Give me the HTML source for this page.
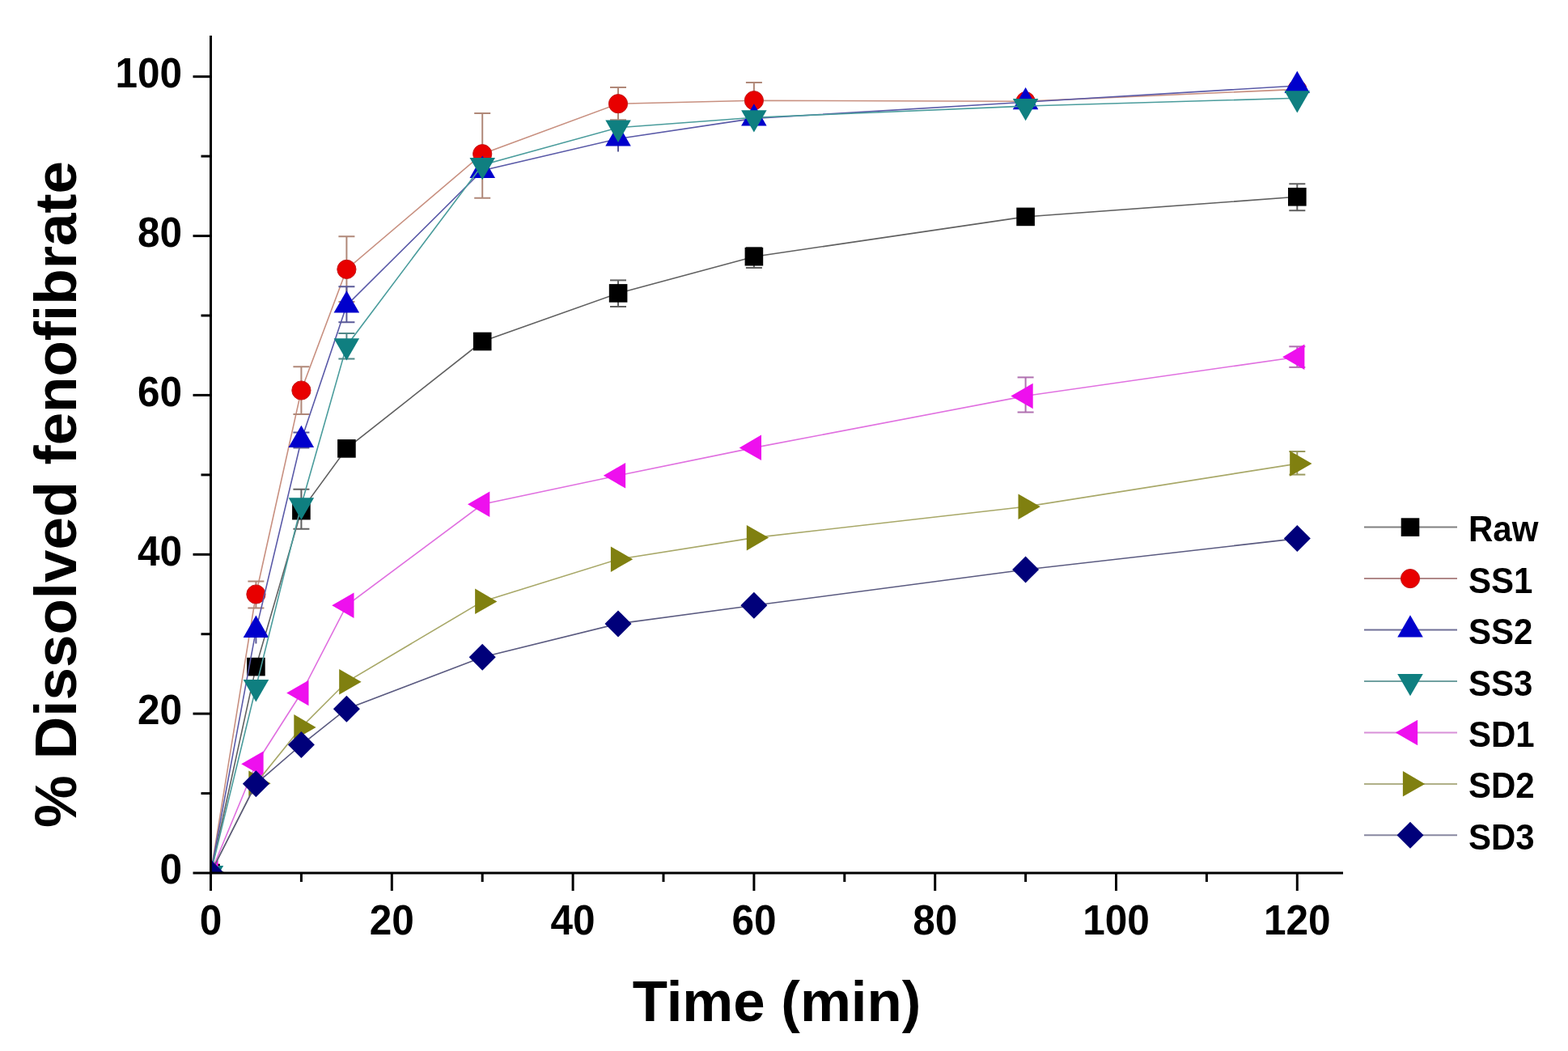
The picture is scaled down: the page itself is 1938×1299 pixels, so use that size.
<!DOCTYPE html>
<html><head><meta charset="utf-8"><title>Dissolution profile</title>
<style>html,body{margin:0;padding:0;background:#fff;overflow:hidden;} svg{display:block;}</style>
</head><body>
<svg width="1938" height="1299" viewBox="0 0 1938 1299">
<rect width="100%" height="100%" fill="#ffffff"/>
<defs><clipPath id="pa"><rect x="260.5" y="30" width="1399.5" height="1049.0"/></clipPath></defs>
<g clip-path="url(#pa)">
<path d="M260.5,1079.0 L316.4,824.1 L372.4,631.1 L428.4,554.4 L596.2,422.0 L764.0,362.4 L931.9,317.2 L1267.6,267.9 L1603.3,243.3" fill="none" stroke="#606060" stroke-width="1.6"/>
<g stroke="#606060" stroke-width="2"><line x1="372.4" y1="604.8" x2="372.4" y2="653.8"/><line x1="362.4" y1="604.8" x2="382.4" y2="604.8"/><line x1="362.4" y1="653.8" x2="382.4" y2="653.8"/></g>
<g stroke="#606060" stroke-width="2"><line x1="764.0" y1="346.4" x2="764.0" y2="379.0"/><line x1="754.0" y1="346.4" x2="774.0" y2="346.4"/><line x1="754.0" y1="379.0" x2="774.0" y2="379.0"/></g>
<g stroke="#606060" stroke-width="2"><line x1="931.9" y1="306.0" x2="931.9" y2="331.0"/><line x1="921.9" y1="306.0" x2="941.9" y2="306.0"/><line x1="921.9" y1="331.0" x2="941.9" y2="331.0"/></g>
<g stroke="#606060" stroke-width="2"><line x1="1603.3" y1="227.3" x2="1603.3" y2="260.2"/><line x1="1593.3" y1="227.3" x2="1613.3" y2="227.3"/><line x1="1593.3" y1="260.2" x2="1613.3" y2="260.2"/></g>
<rect x="249.2" y="1067.7" width="22.6" height="22.6" fill="#000000"/>
<rect x="305.1" y="812.8" width="22.6" height="22.6" fill="#000000"/>
<rect x="361.1" y="619.8" width="22.6" height="22.6" fill="#000000"/>
<rect x="417.1" y="543.1" width="22.6" height="22.6" fill="#000000"/>
<rect x="584.9" y="410.7" width="22.6" height="22.6" fill="#000000"/>
<rect x="752.8" y="351.1" width="22.6" height="22.6" fill="#000000"/>
<rect x="920.6" y="305.9" width="22.6" height="22.6" fill="#000000"/>
<rect x="1256.3" y="256.6" width="22.6" height="22.6" fill="#000000"/>
<rect x="1592.0" y="232.0" width="22.6" height="22.6" fill="#000000"/>
<path d="M260.5,1079.0 L316.4,734.5 L372.4,482.5 L428.4,332.9 L596.2,190.2 L764.0,128.2 L931.9,124.2 L1267.6,125.2 L1603.3,110.4" fill="none" stroke="#c89080" stroke-width="1.6"/>
<g stroke="#b08878" stroke-width="2"><line x1="316.4" y1="718.4" x2="316.4" y2="751.6"/><line x1="306.4" y1="718.4" x2="326.4" y2="718.4"/><line x1="306.4" y1="751.6" x2="326.4" y2="751.6"/></g>
<g stroke="#b08878" stroke-width="2"><line x1="372.4" y1="453.2" x2="372.4" y2="512.0"/><line x1="362.4" y1="453.2" x2="382.4" y2="453.2"/><line x1="362.4" y1="512.0" x2="382.4" y2="512.0"/></g>
<g stroke="#b08878" stroke-width="2"><line x1="428.4" y1="292.3" x2="428.4" y2="373.0"/><line x1="418.4" y1="292.3" x2="438.4" y2="292.3"/><line x1="418.4" y1="373.0" x2="438.4" y2="373.0"/></g>
<g stroke="#b08878" stroke-width="2"><line x1="596.2" y1="140.0" x2="596.2" y2="244.8"/><line x1="586.2" y1="140.0" x2="606.2" y2="140.0"/><line x1="586.2" y1="244.8" x2="606.2" y2="244.8"/></g>
<g stroke="#b08878" stroke-width="2"><line x1="764.0" y1="107.9" x2="764.0" y2="148.3"/><line x1="754.0" y1="107.9" x2="774.0" y2="107.9"/><line x1="754.0" y1="148.3" x2="774.0" y2="148.3"/></g>
<g stroke="#b08878" stroke-width="2"><line x1="931.9" y1="101.9" x2="931.9" y2="146.5"/><line x1="921.9" y1="101.9" x2="941.9" y2="101.9"/><line x1="921.9" y1="146.5" x2="941.9" y2="146.5"/></g>
<circle cx="260.5" cy="1079.0" r="11.6" fill="#e80000" stroke="#c41a1a" stroke-width="1"/>
<circle cx="316.4" cy="734.5" r="11.6" fill="#e80000" stroke="#c41a1a" stroke-width="1"/>
<circle cx="372.4" cy="482.5" r="11.6" fill="#e80000" stroke="#c41a1a" stroke-width="1"/>
<circle cx="428.4" cy="332.9" r="11.6" fill="#e80000" stroke="#c41a1a" stroke-width="1"/>
<circle cx="596.2" cy="190.2" r="11.6" fill="#e80000" stroke="#c41a1a" stroke-width="1"/>
<circle cx="764.0" cy="128.2" r="11.6" fill="#e80000" stroke="#c41a1a" stroke-width="1"/>
<circle cx="931.9" cy="124.2" r="11.6" fill="#e80000" stroke="#c41a1a" stroke-width="1"/>
<circle cx="1267.6" cy="125.2" r="11.6" fill="#e80000" stroke="#c41a1a" stroke-width="1"/>
<circle cx="1603.3" cy="110.4" r="11.6" fill="#e80000" stroke="#c41a1a" stroke-width="1"/>
<path d="M260.5,1079.0 L316.4,778.8 L372.4,544.0 L428.4,377.5 L596.2,210.8 L764.0,171.5 L931.9,146.4 L1267.6,126.2 L1603.3,106.0" fill="none" stroke="#5a5aa8" stroke-width="1.6"/>
<g stroke="#5a5a98" stroke-width="2"><line x1="316.4" y1="778.8" x2="316.4" y2="795.6"/></g>
<g stroke="#5a5a98" stroke-width="2"><line x1="372.4" y1="534.6" x2="372.4" y2="553.4"/><line x1="362.4" y1="534.6" x2="382.4" y2="534.6"/><line x1="362.4" y1="553.4" x2="382.4" y2="553.4"/></g>
<g stroke="#5a5a98" stroke-width="2"><line x1="428.4" y1="354.3" x2="428.4" y2="398.3"/><line x1="418.4" y1="354.3" x2="438.4" y2="354.3"/><line x1="418.4" y1="398.3" x2="438.4" y2="398.3"/></g>
<g stroke="#5a5a98" stroke-width="2"><line x1="764.0" y1="171.5" x2="764.0" y2="187.5"/></g>
<polygon points="260.5,1060.8 276.2,1088.1 244.8,1088.1" fill="#0000cc"/>
<polygon points="316.4,760.6 332.2,787.9 300.7,787.9" fill="#0000cc"/>
<polygon points="372.4,525.8 388.1,553.1 356.6,553.1" fill="#0000cc"/>
<polygon points="428.4,359.3 444.1,386.6 412.6,386.6" fill="#0000cc"/>
<polygon points="596.2,192.6 612.0,219.9 580.5,219.9" fill="#0000cc"/>
<polygon points="764.0,153.3 779.8,180.6 748.3,180.6" fill="#0000cc"/>
<polygon points="931.9,128.2 947.6,155.5 916.1,155.5" fill="#0000cc"/>
<polygon points="1267.6,108.0 1283.3,135.3 1251.8,135.3" fill="#0000cc"/>
<polygon points="1603.3,87.8 1619.0,115.1 1587.5,115.1" fill="#0000cc"/>
<path d="M260.5,1079.0 L316.4,849.2 L372.4,624.3 L428.4,427.4 L596.2,204.0 L764.0,157.7 L931.9,145.3 L1267.6,131.1 L1603.3,121.3" fill="none" stroke="#4a9c9c" stroke-width="1.6"/>
<g stroke="#508888" stroke-width="2"><line x1="428.4" y1="411.9" x2="428.4" y2="443.5"/><line x1="418.4" y1="411.9" x2="438.4" y2="411.9"/><line x1="418.4" y1="443.5" x2="438.4" y2="443.5"/></g>
<polygon points="260.5,1097.2 276.2,1069.9 244.8,1069.9" fill="#0f7f80"/>
<polygon points="316.4,867.4 332.2,840.1 300.7,840.1" fill="#0f7f80"/>
<polygon points="372.4,642.5 388.1,615.2 356.6,615.2" fill="#0f7f80"/>
<polygon points="428.4,445.6 444.1,418.3 412.6,418.3" fill="#0f7f80"/>
<polygon points="596.2,222.2 612.0,194.9 580.5,194.9" fill="#0f7f80"/>
<polygon points="764.0,175.9 779.8,148.6 748.3,148.6" fill="#0f7f80"/>
<polygon points="931.9,163.5 947.6,136.2 916.1,136.2" fill="#0f7f80"/>
<polygon points="1267.6,149.3 1283.3,122.0 1251.8,122.0" fill="#0f7f80"/>
<polygon points="1603.3,139.5 1619.0,112.2 1587.5,112.2" fill="#0f7f80"/>
<path d="M260.5,1079.0 L316.4,944.2 L372.4,856.5 L428.4,748.3 L596.2,623.3 L764.0,587.8 L931.9,553.4 L1267.6,489.4 L1603.3,441.2" fill="none" stroke="#e070e0" stroke-width="1.6"/>
<g stroke="#b070b0" stroke-width="2"><line x1="1267.6" y1="466.4" x2="1267.6" y2="509.5"/><line x1="1257.6" y1="466.4" x2="1277.6" y2="466.4"/><line x1="1257.6" y1="509.5" x2="1277.6" y2="509.5"/></g>
<g stroke="#b070b0" stroke-width="2"><line x1="1603.3" y1="428.3" x2="1603.3" y2="453.9"/><line x1="1593.3" y1="428.3" x2="1613.3" y2="428.3"/><line x1="1593.3" y1="453.9" x2="1613.3" y2="453.9"/></g>
<polygon points="242.3,1079.0 269.6,1063.2 269.6,1094.8" fill="#ee10ee"/>
<polygon points="298.2,944.2 325.6,928.4 325.6,959.9" fill="#ee10ee"/>
<polygon points="354.2,856.5 381.5,840.8 381.5,872.3" fill="#ee10ee"/>
<polygon points="410.2,748.3 437.5,732.5 437.5,764.0" fill="#ee10ee"/>
<polygon points="578.0,623.3 605.3,607.5 605.3,639.0" fill="#ee10ee"/>
<polygon points="745.8,587.8 773.1,572.1 773.1,603.6" fill="#ee10ee"/>
<polygon points="913.7,553.4 941.0,537.6 941.0,569.1" fill="#ee10ee"/>
<polygon points="1249.4,489.4 1276.7,473.7 1276.7,505.2" fill="#ee10ee"/>
<polygon points="1585.1,441.2 1612.4,425.4 1612.4,456.9" fill="#ee10ee"/>
<path d="M260.5,1079.0 L316.4,968.3 L372.4,898.9 L428.4,842.8 L596.2,743.4 L764.0,691.2 L931.9,664.6 L1267.6,626.2 L1603.3,573.1" fill="none" stroke="#a8a868" stroke-width="1.6"/>
<g stroke="#9a9a60" stroke-width="2"><line x1="1603.3" y1="558.0" x2="1603.3" y2="586.6"/><line x1="1593.3" y1="558.0" x2="1613.3" y2="558.0"/><line x1="1593.3" y1="586.6" x2="1613.3" y2="586.6"/></g>
<polygon points="278.7,1079.0 251.4,1063.2 251.4,1094.8" fill="#808010"/>
<polygon points="334.6,968.3 307.3,952.5 307.3,984.0" fill="#808010"/>
<polygon points="390.6,898.9 363.3,883.1 363.3,914.6" fill="#808010"/>
<polygon points="446.6,842.8 419.2,827.0 419.2,858.5" fill="#808010"/>
<polygon points="614.4,743.4 587.1,727.6 587.1,759.1" fill="#808010"/>
<polygon points="782.2,691.2 754.9,675.4 754.9,706.9" fill="#808010"/>
<polygon points="950.1,664.6 922.8,648.9 922.8,680.4" fill="#808010"/>
<polygon points="1285.8,626.2 1258.5,610.5 1258.5,642.0" fill="#808010"/>
<polygon points="1621.5,573.1 1594.2,557.3 1594.2,588.8" fill="#808010"/>
<path d="M260.5,1079.0 L316.4,968.8 L372.4,920.5 L428.4,876.2 L596.2,812.3 L764.0,770.9 L931.9,748.3 L1267.6,704.0 L1603.3,665.6" fill="none" stroke="#5a5a80" stroke-width="1.6"/>
<polygon points="260.5,1062.5 277.0,1079.0 260.5,1095.5 244.0,1079.0" fill="#00007a"/>
<polygon points="316.4,952.3 332.9,968.8 316.4,985.3 299.9,968.8" fill="#00007a"/>
<polygon points="372.4,904.0 388.9,920.5 372.4,937.0 355.9,920.5" fill="#00007a"/>
<polygon points="428.4,859.7 444.9,876.2 428.4,892.7 411.9,876.2" fill="#00007a"/>
<polygon points="596.2,795.8 612.7,812.3 596.2,828.8 579.7,812.3" fill="#00007a"/>
<polygon points="764.0,754.4 780.5,770.9 764.0,787.4 747.5,770.9" fill="#00007a"/>
<polygon points="931.9,731.8 948.4,748.3 931.9,764.8 915.4,748.3" fill="#00007a"/>
<polygon points="1267.6,687.5 1284.1,704.0 1267.6,720.5 1251.1,704.0" fill="#00007a"/>
<polygon points="1603.3,649.1 1619.8,665.6 1603.3,682.1 1586.8,665.6" fill="#00007a"/>
</g>
<g stroke="#000" stroke-width="3" fill="none" stroke-linecap="butt">
<line x1="260.5" y1="44" x2="260.5" y2="1080.5"/>
<line x1="259.0" y1="1079.0" x2="1660" y2="1079.0"/>
<line x1="238.5" y1="1079.0" x2="260.5" y2="1079.0"/>
<line x1="248.5" y1="980.6" x2="260.5" y2="980.6"/>
<line x1="238.5" y1="882.1" x2="260.5" y2="882.1"/>
<line x1="248.5" y1="783.7" x2="260.5" y2="783.7"/>
<line x1="238.5" y1="685.3" x2="260.5" y2="685.3"/>
<line x1="248.5" y1="586.9" x2="260.5" y2="586.9"/>
<line x1="238.5" y1="488.4" x2="260.5" y2="488.4"/>
<line x1="248.5" y1="390.0" x2="260.5" y2="390.0"/>
<line x1="238.5" y1="291.6" x2="260.5" y2="291.6"/>
<line x1="248.5" y1="193.1" x2="260.5" y2="193.1"/>
<line x1="238.5" y1="94.7" x2="260.5" y2="94.7"/>
<line x1="260.5" y1="1079.0" x2="260.5" y2="1101.0"/>
<line x1="372.4" y1="1079.0" x2="372.4" y2="1090.0"/>
<line x1="484.3" y1="1079.0" x2="484.3" y2="1101.0"/>
<line x1="596.2" y1="1079.0" x2="596.2" y2="1090.0"/>
<line x1="708.1" y1="1079.0" x2="708.1" y2="1101.0"/>
<line x1="820.0" y1="1079.0" x2="820.0" y2="1090.0"/>
<line x1="931.9" y1="1079.0" x2="931.9" y2="1101.0"/>
<line x1="1043.8" y1="1079.0" x2="1043.8" y2="1090.0"/>
<line x1="1155.7" y1="1079.0" x2="1155.7" y2="1101.0"/>
<line x1="1267.6" y1="1079.0" x2="1267.6" y2="1090.0"/>
<line x1="1379.5" y1="1079.0" x2="1379.5" y2="1101.0"/>
<line x1="1491.4" y1="1079.0" x2="1491.4" y2="1090.0"/>
<line x1="1603.3" y1="1079.0" x2="1603.3" y2="1101.0"/>
</g>
<g font-family="Liberation Sans, Arial, sans-serif" font-weight="bold" font-size="49.5" fill="#000">
<text transform="translate(225,1092.3) scale(1,1.06)" text-anchor="end">0</text>
<text transform="translate(225,895.4) scale(1,1.06)" text-anchor="end">20</text>
<text transform="translate(225,698.6) scale(1,1.06)" text-anchor="end">40</text>
<text transform="translate(225,501.7) scale(1,1.06)" text-anchor="end">60</text>
<text transform="translate(225,304.9) scale(1,1.06)" text-anchor="end">80</text>
<text transform="translate(225,108.0) scale(1,1.06)" text-anchor="end">100</text>
<text transform="translate(260.5,1155) scale(1,1.06)" text-anchor="middle">0</text>
<text transform="translate(484.3,1155) scale(1,1.06)" text-anchor="middle">20</text>
<text transform="translate(708.1,1155) scale(1,1.06)" text-anchor="middle">40</text>
<text transform="translate(931.9,1155) scale(1,1.06)" text-anchor="middle">60</text>
<text transform="translate(1155.7,1155) scale(1,1.06)" text-anchor="middle">80</text>
<text transform="translate(1379.5,1155) scale(1,1.06)" text-anchor="middle">100</text>
<text transform="translate(1603.3,1155) scale(1,1.06)" text-anchor="middle">120</text>
</g>
<text font-family="Liberation Sans, Arial, sans-serif" font-weight="bold" font-size="70.8" x="960" y="1262" text-anchor="middle">Time (min)</text>
<text font-family="Liberation Sans, Arial, sans-serif" font-weight="bold" font-size="72.7" transform="translate(94,611) rotate(-90)" text-anchor="middle">% Dissolved fenofibrate</text>
<line x1="1686" y1="651.6" x2="1801" y2="651.6" stroke="#808080" stroke-width="2"/>
<rect x="1731.7" y="640.3" width="22.6" height="22.6" fill="#000000"/>
<text font-family="Liberation Sans, Arial, sans-serif" font-weight="bold" font-size="42" transform="translate(1815,669.1) scale(1,1.05)">Raw</text>
<line x1="1686" y1="715.1" x2="1801" y2="715.1" stroke="#b08888" stroke-width="2"/>
<circle cx="1743.0" cy="715.1" r="11.6" fill="#e80000" stroke="#c41a1a" stroke-width="1"/>
<text font-family="Liberation Sans, Arial, sans-serif" font-weight="bold" font-size="42" transform="translate(1815,732.6) scale(1,1.05)">SS1</text>
<line x1="1686" y1="778.5" x2="1801" y2="778.5" stroke="#707098" stroke-width="2"/>
<polygon points="1743.0,760.3 1758.8,787.6 1727.2,787.6" fill="#0000cc"/>
<text font-family="Liberation Sans, Arial, sans-serif" font-weight="bold" font-size="42" transform="translate(1815,796.0) scale(1,1.05)">SS2</text>
<line x1="1686" y1="842.0" x2="1801" y2="842.0" stroke="#70a0a0" stroke-width="2"/>
<polygon points="1743.0,860.2 1758.8,832.9 1727.2,832.9" fill="#0f7f80"/>
<text font-family="Liberation Sans, Arial, sans-serif" font-weight="bold" font-size="42" transform="translate(1815,859.5) scale(1,1.05)">SS3</text>
<line x1="1686" y1="905.4" x2="1801" y2="905.4" stroke="#d890d8" stroke-width="2"/>
<polygon points="1724.8,905.4 1752.1,889.7 1752.1,921.2" fill="#ee10ee"/>
<text font-family="Liberation Sans, Arial, sans-serif" font-weight="bold" font-size="42" transform="translate(1815,922.9) scale(1,1.05)">SD1</text>
<line x1="1686" y1="968.9" x2="1801" y2="968.9" stroke="#b0b088" stroke-width="2"/>
<polygon points="1761.2,968.9 1733.9,953.1 1733.9,984.6" fill="#808010"/>
<text font-family="Liberation Sans, Arial, sans-serif" font-weight="bold" font-size="42" transform="translate(1815,986.4) scale(1,1.05)">SD2</text>
<line x1="1686" y1="1032.3" x2="1801" y2="1032.3" stroke="#8888a0" stroke-width="2"/>
<polygon points="1743.0,1015.8 1759.5,1032.3 1743.0,1048.8 1726.5,1032.3" fill="#00007a"/>
<text font-family="Liberation Sans, Arial, sans-serif" font-weight="bold" font-size="42" transform="translate(1815,1049.8) scale(1,1.05)">SD3</text>
</svg>
</body></html>
